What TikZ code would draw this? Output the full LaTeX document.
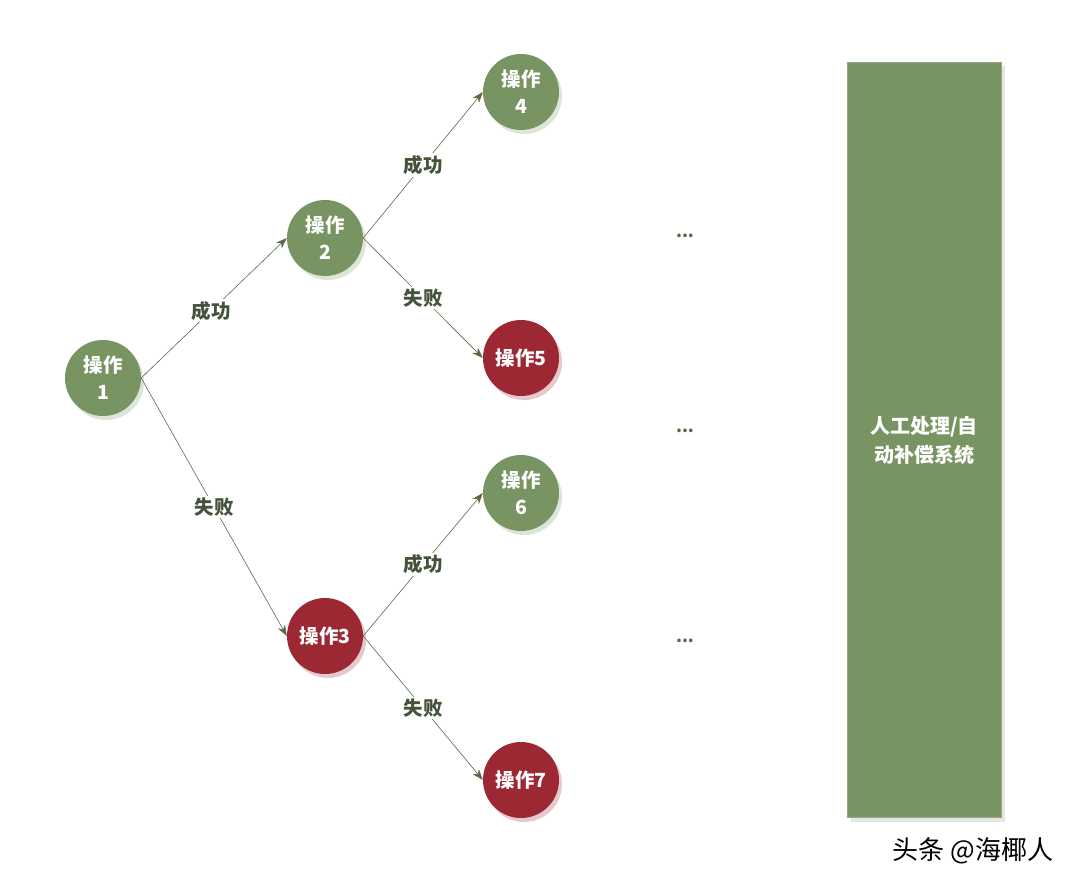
\documentclass[tikz,border=0pt]{standalone}
\usepackage{fontspec}
\setmainfont{Noto Sans CJK SC}
\usepackage{xcolor}
\usetikzlibrary{shapes.geometric, arrows, arrows.meta, positioning, calc, shadows}

\definecolor{opgreen}{HTML}{789463}
\definecolor{opred}{HTML}{9B2833}
\definecolor{linegreen}{HTML}{566B45}
\definecolor{labelgreen}{HTML}{44533A}

\begin{document}
\begin{tikzpicture}[x=1pt, y=-1pt]
    \tikzstyle{okop} = [circle, fill=opgreen, text=white, minimum size=76pt, inner sep=0pt, align=center, font=\bfseries\fontsize{19.5}{27}\selectfont, drop shadow={opacity=0.25, fill=opgreen, shadow xshift=3pt, shadow yshift=-4pt}]
    \tikzstyle{failop} = [circle, fill=opred, text=white, minimum size=76pt, inner sep=0pt, align=center, font=\bfseries\fontsize{19.5}{27}\selectfont, drop shadow={opacity=0.25, fill=opred, shadow xshift=3pt, shadow yshift=-4pt}]
    \tikzstyle{arrow} = [draw=linegreen, line width=0.6pt, ->, >={Stealth[length=11pt, width=8pt]}]
    \tikzstyle{lbl} = [fill=white, text=labelgreen, inner sep=2pt, font=\bfseries\fontsize{19.5}{21}\selectfont]
    \tikzstyle{dots} = [text=linegreen, font=\bfseries\fontsize{17}{17}\selectfont]

    \useasboundingbox (0,0) rectangle (1084,888);

    \node[okop] (op1) at (103,378) {操作\\1};
    \node[okop] (op2) at (325,238) {操作\\2};
    \node[failop] (op3) at (325,636) {操作3};
    \node[okop] (op4) at (521,92) {操作\\4};
    \node[failop] (op5) at (521,358) {操作5};
    \node[okop] (op6) at (521,493) {操作\\6};
    \node[failop] (op7) at (521,780) {操作7};

    \draw[arrow] (op1.east) -- node[lbl, pos=0.48] {成功} (op2.west);
    \draw[arrow] (op1.east) -- node[lbl, pos=0.5] {失败} (op3.west);
    \draw[arrow] (op2.east) -- node[lbl, pos=0.5] {成功} (op4.west);
    \draw[arrow] (op2.east) -- node[lbl, pos=0.5] {失败} (op5.west);
    \draw[arrow] (op3.east) -- node[lbl, pos=0.5] {成功} (op6.west);
    \draw[arrow] (op3.east) -- node[lbl, pos=0.5] {失败} (op7.west);

    \node[dots] (dots1) at (685,236) {...};
    \node[dots] (dots2) at (685,431) {...};
    \node[dots] (dots3) at (685,641) {...};

    \node[rectangle, fill=opgreen, draw=opgreen!80!white, minimum width=154pt, minimum height=755pt, text=white, align=center, font=\bfseries\fontsize{20}{29}\selectfont, drop shadow={opacity=0.2, shadow xshift=4pt, shadow yshift=-4pt}] (manual) at (924,440) {人工处理/自\\动补偿系统};

    \node[font=\fontsize{26}{26}\selectfont] (mark) at (973,851) {头条 @海椰人};
\end{tikzpicture}
\end{document}
